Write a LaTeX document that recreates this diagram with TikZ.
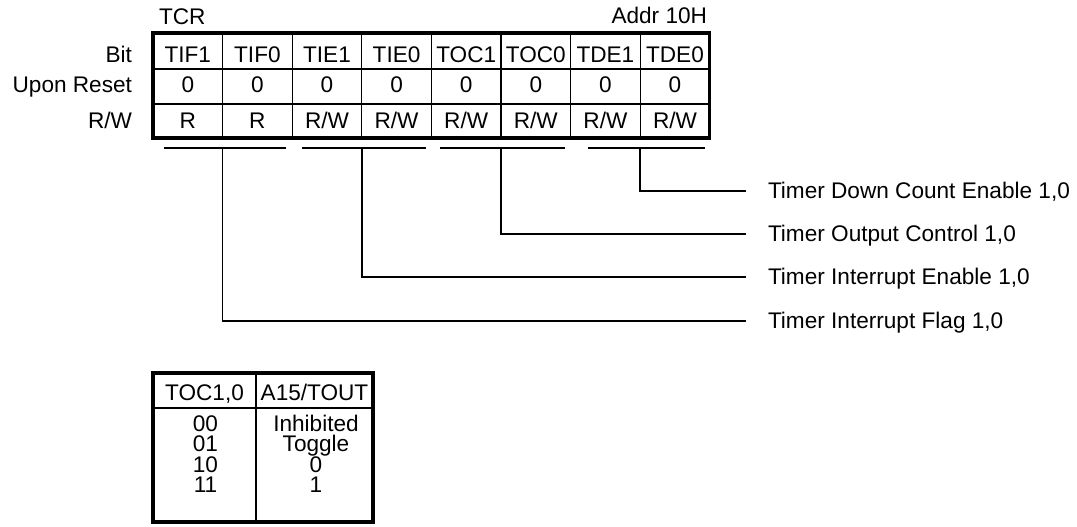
\documentclass[tikz,border=0pt]{standalone}
\usepackage{fontspec}
\setmainfont{Liberation Sans}
\begin{document}
\begin{tikzpicture}[x=1pt,y=-1pt,
  every node/.style={font=\fontsize{22.6}{25}\selectfont, inner sep=0pt, outer sep=0pt},
  outerframe/.style={line width=3.2pt},
  gridline/.style={line width=1.3pt},
  conn/.style={line width=1.5pt},
  brace/.style={line width=1.5pt},
  cell/.style={anchor=base},
  tcell/.style={anchor=base, text height=16pt, text depth=3pt},
  rlabel/.style={anchor=base east},
  desc/.style={anchor=base west}]
\useasboundingbox (0,0) rectangle (1077,527);

% ---- register table ----
\foreach \i in {1,...,7}
  \draw[gridline] ({153+69.6*\i},33) -- ({153+69.6*\i},138);
\draw[gridline] (153,69) -- (709.8,69);
\draw[gridline] (153,104) -- (709.8,104);
\draw[outerframe] (153,33) rectangle (709.8,138);

\node[anchor=base west] (tcr) at (159,25) {TCR};
\node[anchor=base east] (addr) at (707,23.5) {Addr 10H};

\node[rlabel] (lbit) at (132,62.5) {Bit};
\node[rlabel] (lreset) at (132,92.7) {Upon Reset};
\node[rlabel] (lrw) at (132,128.3) {R/W};

\foreach \t [count=\i] in {TIF1,TIF0,TIE1,TIE0,TOC1,TOC0,TDE1,TDE0}
  \node[cell] (bit\i) at ({153+69.6*(\i-0.5)},62.5) {\t};
\foreach \i in {1,...,8}
  \node[cell] (rst\i) at ({153+69.6*(\i-0.5)},92.7) {0};
\foreach \t [count=\i] in {R,R,R/W,R/W,R/W,R/W,R/W,R/W}
  \node[cell] (rw\i) at ({153+69.6*(\i-0.5)},128.3) {\t};

% ---- field brackets ----
\draw[brace] (163.5,148) -- (285.5,148);
\draw[brace] (302,148) -- (426,148);
\draw[brace] (440,148) -- (565,148);
\draw[brace] (587.5,148) -- (705,148);

\coordinate (k1) at (222.6,148);
\coordinate (k2) at (361.8,148);
\coordinate (k3) at (501,148);
\coordinate (k4) at (640.2,148);

\coordinate (e1) at (746,191);
\coordinate (e2) at (746,234);
\coordinate (e3) at (746,277);
\coordinate (e4) at (746,321);

\node[desc] (d1) at (768,198.8) {Timer Down Count Enable 1,0};
\node[desc] (d2) at (768,241.8) {Timer Output Control 1,0};
\node[desc] (d3) at (768,284.8) {Timer Interrupt Enable 1,0};
\node[desc] (d4) at (768,328.8) {Timer Interrupt Flag 1,0};

\draw[conn] (k4) |- (e1);
\draw[conn] (k3) |- (e2);
\draw[conn] (k2) |- (e3);
\draw[conn] (k1) |- (e4);

% ---- TOC table ----
\draw[gridline] (256,373) -- (256,522);
\draw[gridline] (153,408) -- (373,408);
\draw[outerframe] (153,373) rectangle (373,522);

\node[cell] (h1) at (204.5,400) {TOC1,0};
\node[cell] (h2) at (314.5,400) {A15/TOUT};
\foreach \a/\b [count=\i] in {00/Inhibited,01/Toggle,10/0,11/1}{
  \node[tcell] (c\i) at (205.5,{431.5+20.4*(\i-1)}) {\a};
  \node[tcell] (v\i) at (316,{431.5+20.4*(\i-1)}) {\b};
}
\end{tikzpicture}
\end{document}
